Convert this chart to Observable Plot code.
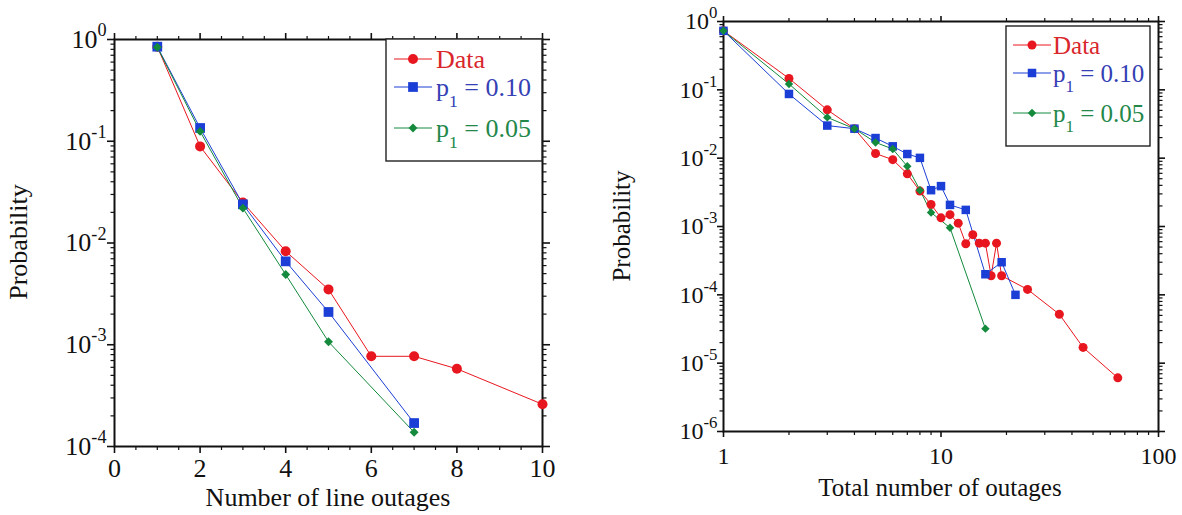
<!DOCTYPE html>
<html>
<head>
<meta charset="utf-8">
<script src="https://cdn.jsdelivr.net/npm/d3@7"></script>
<script src="https://cdn.jsdelivr.net/npm/@observablehq/plot@0.6"></script>
<style>
  html, body { margin: 0; padding: 0; background: #fff; }
  #wrap { position: relative; width: 1182px; height: 515px; overflow: hidden; background: #fff; }
  #left { position: absolute; left: 0; top: 0; }
  #right { position: absolute; left: 580px; top: 0; }
  svg { overflow: visible; }
  svg text, svg tspan { font-family: "Liberation Serif", "Times New Roman", serif !important; font-variant: normal !important; }
</style>
</head>
<body>
<div id="wrap"><div id="left"></div><div id="right"></div></div>
<script>
// ---------- Number of line outages ----------
const lineDataX = [1, 2, 3, 4, 5, 6, 7, 8, 10];
const lineDataP = [0.85, 0.089, 0.025, 0.0083, 0.0035, 0.00077, 0.00077, 0.00058, 0.00026];
const lineP10X = [1, 2, 3, 4, 5, 7];
const lineP10P = [0.85, 0.135, 0.024, 0.0066, 0.0021, 0.00017];
const lineP05X = [1, 2, 3, 4, 5, 7];
const lineP05P = [0.84, 0.125, 0.022, 0.0049, 0.00107, 0.000138];

// ---------- Total number of outages ----------
const totalDataX = [1, 2, 3, 4, 5, 6, 7, 8, 9, 10, 11, 12, 13, 14, 15, 16, 17, 18, 19, 25, 35, 45, 65];
const totalDataP = [0.73, 0.147, 0.051, 0.027, 0.0117, 0.0095, 0.0059, 0.0033, 0.0021, 0.00134, 0.00149, 0.00112,
                    0.00056, 0.00076, 0.00057, 0.00057, 0.00019, 0.00057, 0.00019, 0.00012, 0.000052, 0.000017, 0.0000061];
const totalP10X = [1, 2, 3, 4, 5, 6, 7, 8, 9, 10, 11, 13, 16, 19, 22];
const totalP10P = [0.73, 0.087, 0.030, 0.027, 0.0197, 0.0149, 0.0115, 0.0101, 0.0034, 0.0039, 0.00207, 0.00175, 0.0002, 0.0003, 0.0001];
const totalP05X = [1, 2, 3, 4, 5, 6, 7, 8, 9, 11, 16];
const totalP05P = [0.73, 0.122, 0.0395, 0.027, 0.017, 0.0136, 0.0076, 0.0034, 0.0016, 0.00096, 0.000032];

// ---------- Series and axes ----------
const seriesLabels = ["Data", "0.10", "0.05"];
const seriesColors = ["#e8161e", "#1b3fd6", "#138a3c"];
const seriesText = ["#d9262c", "#3440b4", "#23884a"];
const seriesSymbols = ["circle", "square", "diamond2"];

const lineXMajor = [0, 2, 4, 6, 8, 10];
const lineYMajor = [1e-4, 1e-3, 1e-2, 1e-1, 1];
const totalXMajor = [1, 10, 100];
const totalXLabels = ["1", "10", "100"];
const totalYMajor = [1e-6, 1e-5, 1e-4, 1e-3, 1e-2, 1e-1, 1];

const svgNS = "http://www.w3.org/2000/svg";
const zip = (xs, ys) => xs.map((x, i) => ({x, p: ys[i]}));
const logMinor = (lo, hi) => {
  const out = [];
  for (let k = lo; k < hi; k++) for (let m = 2; m <= 9; m++) out.push(m * Math.pow(10, k));
  return out;
};
const powLabel = d => `10^${Math.round(Math.log10(d))}`;

function panel(cfg) {
  const none = () => "";
  const marks = [
    Plot.frame({stroke: "#111", strokeWidth: 2}),
    Plot.axisX(cfg.xMinor, {anchor: "bottom", tickSize: 4, strokeWidth: 1.2, tickFormat: none, label: null}),
    Plot.axisX(cfg.xMinor, {anchor: "top", tickSize: 4, strokeWidth: 1.2, tickFormat: none, label: null}),
    Plot.axisX(cfg.xMajor, {anchor: "bottom", tickSize: cfg.majorTick, strokeWidth: 1.6, tickPadding: cfg.xPad,
      tickFormat: cfg.xFormat, label: null, fontSize: cfg.tickFont}),
    Plot.axisX(cfg.xMajor, {anchor: "top", tickSize: cfg.majorTick, strokeWidth: 1.6, tickFormat: none, label: null}),
    Plot.axisY(cfg.yMinor, {anchor: "left", tickSize: 3.5, strokeWidth: 1.2, tickFormat: none, label: null}),
    Plot.axisY(cfg.yMinor, {anchor: "right", tickSize: 3.5, strokeWidth: 1.2, tickFormat: none, label: null}),
    Plot.axisY(cfg.yMajor, {anchor: "left", tickSize: cfg.majorTick, strokeWidth: 1.6, tickPadding: cfg.yPad,
      tickFormat: powLabel, label: null, fontSize: cfg.tickFont}),
    Plot.axisY(cfg.yMajor, {anchor: "right", tickSize: cfg.majorTick, strokeWidth: 1.6, tickFormat: none, label: null})
  ];
  cfg.series.forEach((s, i) => {
    marks.push(Plot.line(s, {x: "x", y: "p", stroke: seriesColors[i], strokeWidth: 1}));
  });
  cfg.series.forEach((s, i) => {
    marks.push(Plot.dot(s, {x: "x", y: "p", fill: seriesColors[i], stroke: "none",
      symbol: seriesSymbols[i], r: cfg.radii[i]}));
  });
  const svg = Plot.plot({
    width: cfg.width, height: 515,
    marginLeft: cfg.margin[3], marginRight: cfg.margin[1], marginTop: cfg.margin[0], marginBottom: cfg.margin[2],
    x: {type: cfg.xType, domain: cfg.xDomain},
    y: {type: "log", domain: cfg.yDomain},
    style: {fontSize: cfg.tickFont + "px", color: "#111", background: "white", overflow: "visible"},
    marks
  });

  // powers of ten as 10 with a raised exponent
  svg.querySelectorAll("text").forEach(t => {
    const m = /^10\^(-?\d+)$/.exec(t.textContent);
    if (!m) return;
    t.textContent = "10";
    const s = document.createElementNS(svgNS, "tspan");
    s.setAttribute("dy", (-0.45 * cfg.tickFont) + "px");
    s.setAttribute("font-size", (0.7 * cfg.tickFont) + "px");
    s.textContent = m[1];
    t.appendChild(s);
  });

  const root = d3.select(svg);
  // axis titles
  root.append("text")
    .attr("x", cfg.xTitle[0]).attr("y", cfg.xTitle[1])
    .attr("text-anchor", "middle").attr("font-size", cfg.titleFont)
    .attr("fill", "#111").text(cfg.xLabel);
  root.append("text")
    .attr("transform", `translate(${cfg.yTitle[0]},${cfg.yTitle[1]}) rotate(-90)`)
    .attr("text-anchor", "middle").attr("font-size", cfg.titleFont)
    .attr("fill", "#111").text("Probability");

  // legend box
  const L = cfg.legend;
  const g = root.append("g").attr("font-size", L.font).attr("text-anchor", "start");
  g.append("rect").attr("x", L.box[0]).attr("y", L.box[1]).attr("width", L.box[2]).attr("height", L.box[3])
    .attr("fill", "white").attr("stroke", "#222").attr("stroke-width", 1.4);
  const symbolTypes = [d3.symbolCircle, d3.symbolSquare, d3.symbolDiamond2];
  seriesLabels.forEach((lab, i) => {
    const y = L.rows[i];
    g.append("line").attr("x1", L.line[0]).attr("x2", L.line[1]).attr("y1", y).attr("y2", y)
      .attr("stroke", seriesColors[i]).attr("stroke-width", 1);
    g.append("path").attr("transform", `translate(${L.marker},${y})`)
      .attr("d", d3.symbol(symbolTypes[i], Math.PI * cfg.radii[i] * cfg.radii[i])())
      .attr("fill", seriesColors[i]);
    const t = g.append("text").attr("x", L.text).attr("y", y).attr("dy", (0.34 * L.font) + "px")
      .attr("text-anchor", "start").attr("fill", seriesText[i]);
    if (i === 0) {
      t.text(lab);
    } else {
      t.append("tspan").text("p");
      t.append("tspan").attr("dy", (0.42 * L.font) + "px").attr("font-size", (0.68 * L.font) + "px").text("1");
      t.append("tspan").attr("dy", (-0.42 * L.font) + "px").text("\u00a0= " + lab);
    }
  });
  return svg;
}

const leftSvg = panel({
  width: 580, margin: [39, 38, 69, 114],
  xType: "linear", xDomain: [0, 10], yDomain: [1e-4, 1],
  xMajor: lineXMajor, xMinor: d3.range(0.5, 10, 0.5).filter(v => v % 2 !== 0),
  yMajor: lineYMajor, yMinor: logMinor(-4, 0),
  xFormat: d => String(d), majorTick: 7, xPad: 5, yPad: 1, tickFont: 26, titleFont: 26,
  series: [zip(lineDataX, lineDataP), zip(lineP10X, lineP10P), zip(lineP05X, lineP05P)],
  radii: [5, 5.5, 4],
  xLabel: "Number of line outages", xTitle: [328, 506], yTitle: [27, 242],
  legend: {box: [386, 39, 156, 122], rows: [59, 87, 128], line: [394, 432], marker: 413, text: 436, font: 26}
});
document.getElementById("left").appendChild(leftSvg);

const rightSvg = panel({
  width: 602, margin: [21, 24, 84, 143],
  xType: "log", xDomain: [1, 100], yDomain: [1e-6, 1],
  xMajor: totalXMajor, xMinor: logMinor(0, 2),
  yMajor: totalYMajor, yMinor: logMinor(-6, 0),
  xFormat: d => totalXLabels[totalXMajor.indexOf(d)], majorTick: 6, xPad: 9, yPad: 0, tickFont: 24, titleFont: 25,
  series: [zip(totalDataX, totalDataP), zip(totalP10X, totalP10P), zip(totalP05X, totalP05P)],
  radii: [4.5, 4.8, 3.8],
  xLabel: "Total number of outages", xTitle: [360, 496], yTitle: [50, 226],
  legend: {box: [426, 26, 144, 120], rows: [45, 73, 113], line: [433, 471], marker: 452, text: 473, font: 25}
});
document.getElementById("right").appendChild(rightSvg);
</script>
</body>
</html>
